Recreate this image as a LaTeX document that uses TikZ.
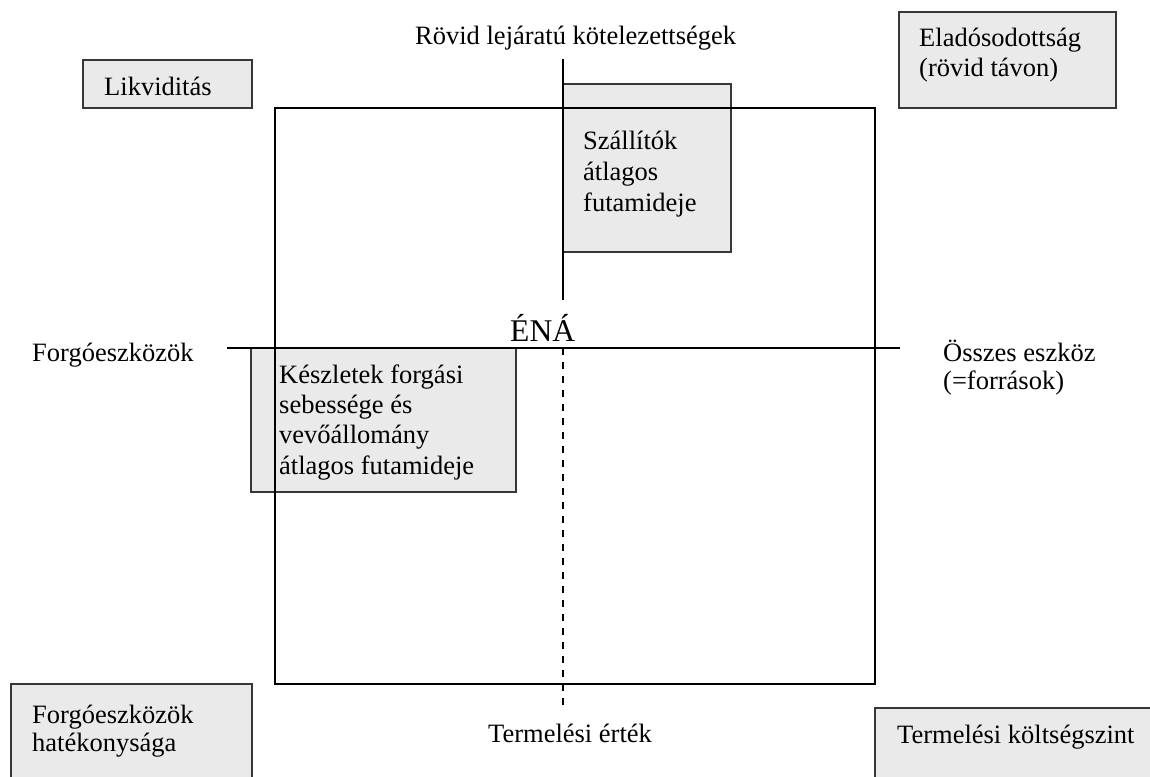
\documentclass[tikz,border=0pt]{standalone}
\usepackage{fontspec}
\setmainfont{Liberation Serif}
\definecolor{panelgray}{RGB}{234,234,234}
\definecolor{panelline}{RGB}{55,55,55}
\begin{document}
\begin{tikzpicture}[x=1pt,y=-1pt,
  txt/.style={inner sep=0pt, anchor=base west, font=\fontsize{26.5}{30.5}\selectfont},
  bigtxt/.style={txt, font=\fontsize{31.6}{36}\selectfont},
  panel/.style={draw=panelline, line width=2pt, fill=panelgray},
  frame/.style={draw=black, line width=2pt},
  axis/.style={draw=black, line width=2pt},
  guide/.style={draw=black, line width=2pt, dash pattern=on 7pt off 7pt}]
\useasboundingbox (0,0) rectangle (1150,776);
\clip (0,0) rectangle (1150,776);

% shaded indicator panels
\draw[panel] (83,60) rectangle (252,108);
\draw[panel] (899,12) rectangle (1116,108);
\draw[panel] (563,84) rectangle (731,252);
\draw[panel] (251,348) rectangle (516,492);
\draw[panel] (11,684) rectangle (252,790);
\draw[panel] (875,708) rectangle (1160,790);

% balance frame
\draw[frame] (275,108) rectangle (875,684);

% axes
\coordinate (vtop) at (563,59);
\coordinate (vmid) at (563,300);
\coordinate (vdash) at (563,348);
\coordinate (vbot) at (563,705);
\coordinate (hleft) at (227,348);
\coordinate (hright) at (900,348);
\draw[axis] (vtop) -- (vmid);
\draw[guide] (vdash) -- (vbot);
\draw[axis] (hleft) -- (hright);

% labels
\node[txt] (liq) at (104,95) {Likviditás};
\node[txt] (debt1) at (919,47) {Eladósodottság};
\node[txt] (debt2) at (919,76) {(rövid távon)};
\node[txt] (stl) at (415,45) {Rövid lejáratú kötelezettségek};
\node[txt] (sup1) at (583,149) {Szállítók};
\node[txt] (sup2) at (583,180) {átlagos};
\node[txt] (sup3) at (583,211) {futamideje};
\node[bigtxt] (ena) at (510,341) {ÉNÁ};
\node[txt] (cur) at (32,361) {Forgóeszközök};
\node[txt] (tot1) at (943,361) {Összes eszköz};
\node[txt] (tot2) at (943,389) {(=források)};
\node[txt] (inv1) at (279,383) {Készletek forgási};
\node[txt] (inv2) at (279,413) {sebessége és};
\node[txt] (inv3) at (279,443) {vevőállomány};
\node[txt] (inv4) at (279,474) {átlagos futamideje};
\node[txt] (eff1) at (32,723) {Forgóeszközök};
\node[txt] (eff2) at (32,751) {hatékonysága};
\node[txt] (prod) at (488,742) {Termelési érték};
\node[txt] (cost) at (897,743) {Termelési költségszint};
\end{tikzpicture}
\end{document}
